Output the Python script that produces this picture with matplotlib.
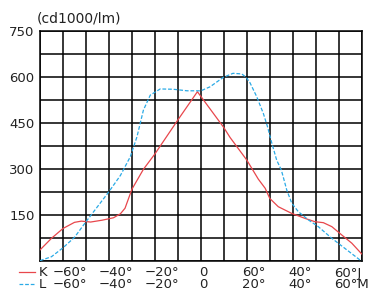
import matplotlib
matplotlib.use("Agg")
import matplotlib.pyplot as plt
import matplotlib.transforms as mtransforms

# K curve (solid red), angle in degrees vs cd/1000lm
k_angle = [-70, -65, -60, -55, -52, -48, -43, -38, -35, -33, -30, -25, -20, -10, -1.5,
           10, 12.7, 20, 25, 28, 30, 33.7, 39.6, 45.3, 49.7, 53.3, 57, 61.3, 65.7, 70]
k_value = [37, 75, 107, 127, 131, 128, 134, 142, 155, 173, 235, 300, 350, 461, 553,
           436, 404, 330, 268, 238, 205, 178, 156, 140, 129, 126, 113, 86, 59, 24]

# L curve (dashed blue)
l_angle = [-70, -65, -60, -55, -50, -45, -40, -35, -30.7, -27.8, -25, -22, -17.7, -12, -6, 0,
           4, 9.8, 14, 17.8, 19.7, 21.4, 24.3, 27.2, 29, 30.9, 33, 35, 36, 37.4, 39.6,
           42.4, 46.8, 51.1, 57, 62.7, 69.3, 70]
l_value = [2, 15, 44, 78, 129, 178, 227, 280, 341, 406, 493, 542, 562, 561, 556, 556,
           569, 600, 613, 611, 600, 582, 537, 482, 439, 385, 330, 298, 271, 232, 189,
           162, 135, 113, 75, 42, 4, 0]

y_labels = [150, 300, 450, 600, 750]
k_ticks = [-60, -40, -20, 0, 20, 40, 60]
k_labels = ["−60°", "−40°", "−20°", "0", "60°", "40°", "60°J"]
l_labels = ["−60°", "−40°", "−20°", "0", "20°", "40°", "60°M"]

red = "#e8474c"
blue = "#2aaae6"

fig = plt.figure(figsize=(3.69, 2.90), dpi=100)
ax = fig.add_axes([40 / 369, 1 - 261.3 / 290, 321.7 / 369, 230 / 290])

ax.plot(k_angle, k_value, color=red, linewidth=0.9, zorder=3)
ax.plot(l_angle, l_value, color=blue, linewidth=0.9, linestyle=(0, (3, 1.5)), zorder=3)

ax.set_xlim(-70, 70)
ax.set_ylim(0, 750)
ax.set_xticks(range(-70, 71, 10))
ax.set_xticklabels([])
ax.set_yticks(range(0, 751, 75))
ax.set_yticklabels([str(v) if v in y_labels else "" for v in range(0, 751, 75)],
                   fontsize=9.5, color="#222222")
ax.tick_params(axis="both", length=0, pad=4)
ax.grid(True, color="black", linewidth=1.1, zorder=1)
for spine in ax.spines.values():
    spine.set_linewidth(1.1)

fig.text(37 / 369, 1 - 19 / 290, "(cd1000/lm)", fontsize=10, color="#222222",
         ha="left", va="center")

# angle scales below the chart
blend = mtransforms.blended_transform_factory(ax.transData, fig.transFigure)
rows = [(k_labels, 273, "K"), (l_labels, 285, "L")]
for labels, ypx, name in rows:
    yf = 1 - ypx / 290
    for t, lab in zip(k_ticks, labels):
        if lab.startswith("−"):
            dx = -10
        elif lab == "0":
            dx = -2
        else:
            dx = -4.5
        tr = mtransforms.offset_copy(blend, fig=fig, x=dx, y=0, units="dots")
        ax.text(t, yf, lab, transform=tr, fontsize=9.5, ha="left", va="center",
                color="#222222", clip_on=False)
    fig.text(39 / 369, yf, name, fontsize=9.5, ha="left", va="center", color="#222222")

fig.add_artist(plt.Line2D([19 / 369, 35 / 369], [1 - 272.3 / 290] * 2,
                          color=red, linewidth=0.9))
fig.add_artist(plt.Line2D([19 / 369, 35 / 369], [1 - 284 / 290] * 2,
                          color=blue, linewidth=0.9, linestyle=(0, (3, 1.5))))

fig.savefig("out.png", dpi=100)
